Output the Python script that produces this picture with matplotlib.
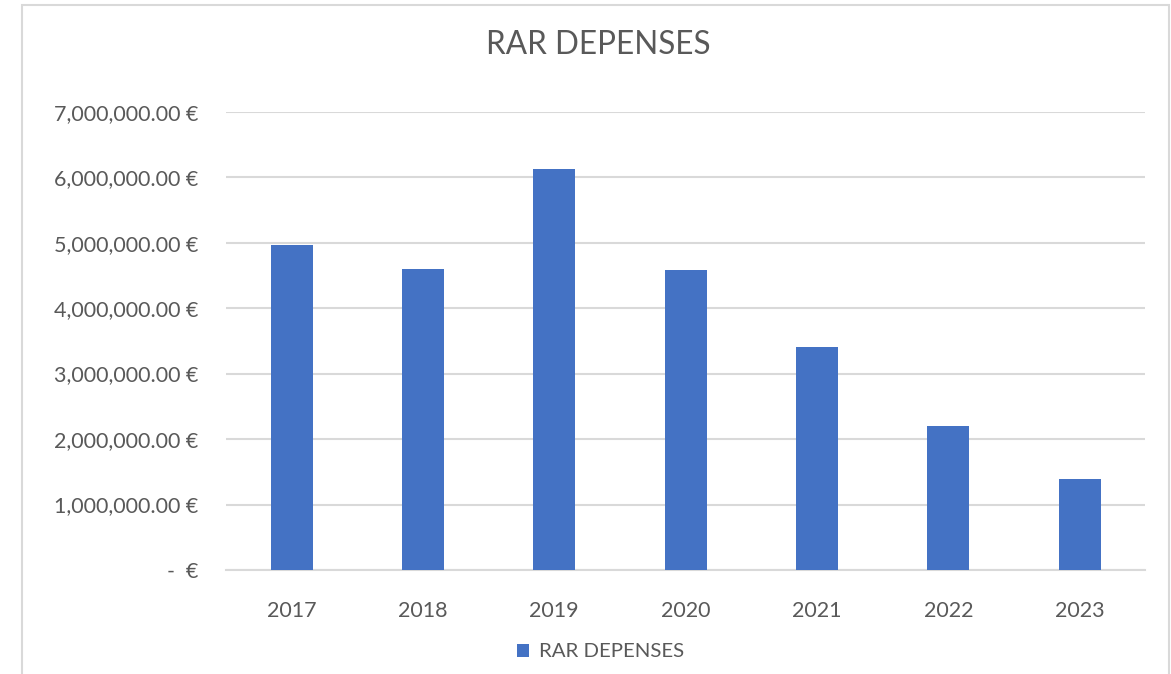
import matplotlib.pyplot as plt
from matplotlib.patches import Rectangle
from matplotlib.ticker import FuncFormatter

plt.rcParams['font.family'] = ['Lato', 'DejaVu Sans']

years = ["2017", "2018", "2019", "2020", "2021", "2022", "2023"]
rar_depenses = [4960000, 4595000, 6120000, 4580000, 3405000, 2200000, 1390000]
yticks = [0, 1000000, 2000000, 3000000, 4000000, 5000000, 6000000, 7000000]

grey = "#595959"
bar_color = "#4472C4"


def euro(v, pos):
    if v == 0:
        return "-  €"
    return "{:,.2f} €".format(v)


fig = plt.figure(figsize=(11.71, 6.74), dpi=100)
ax = fig.add_axes([0.193, 0.1543, 0.785, 0.68])

# chart border (bottom edge lies below the picture)
fig.patches.append(Rectangle((22 / 1171, -0.05), (1169 - 22) / 1171, 1.05 - 5 / 674,
                             transform=fig.transFigure, fill=False,
                             edgecolor="#d9d9d9", linewidth=1.5))

x = range(len(years))
ax.bar(x, rar_depenses, width=0.32, color=bar_color, label="RAR DEPENSES", zorder=3)

ax.set_xlim(-0.5, len(years) - 0.5)
ax.set_ylim(0, 7000000)
ax.set_yticks(yticks)
ax.yaxis.set_major_formatter(FuncFormatter(euro))
ax.set_xticks(list(x))
ax.set_xticklabels(years)

ax.grid(axis="y", color="#d9d9d9", linewidth=1.5, zorder=0)
for s in ["top", "right", "left"]:
    ax.spines[s].set_visible(False)
ax.spines["bottom"].set_color("#d9d9d9")
ax.spines["bottom"].set_linewidth(1.5)
ax.tick_params(axis="both", length=0, colors=grey, labelsize=15.5)
ax.tick_params(axis="y", pad=20)
ax.tick_params(axis="x", pad=22)

fig.text(0.511, 0.933, "RAR DEPENSES", ha="center", va="center", fontsize=22.7, color=grey)

fig.legend(loc="center", bbox_to_anchor=(0.513, 0.033), frameon=False,
           fontsize=14.7, labelcolor=grey, handlelength=0.6, handleheight=0.6,
           handletextpad=0.5)

fig.savefig("out.png", dpi=100, facecolor="white")
